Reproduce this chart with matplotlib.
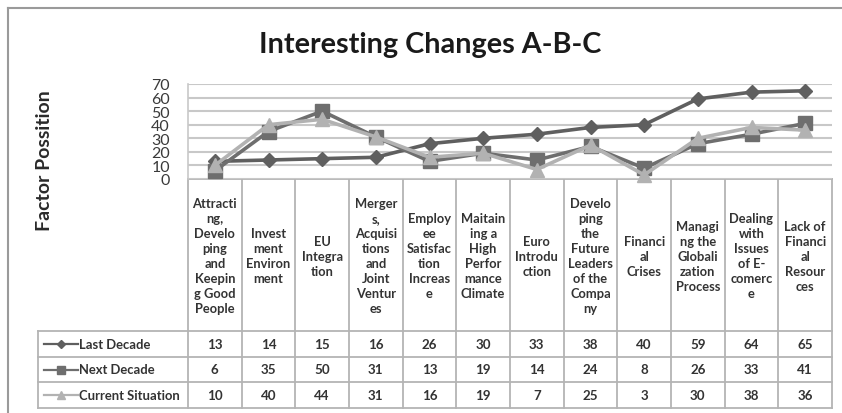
import matplotlib
matplotlib.use("Agg")
import matplotlib.pyplot as plt
from matplotlib.lines import Line2D

plt.rcParams['font.family'] = ['Lato', 'DejaVu Sans']

categories = [
    "Attracti\nng,\nDevelo\nping\nand\nKeepin\ng Good\nPeople",
    "Invest\nment\nEnviron\nment",
    "EU\nIntegra\ntion",
    "Merger\ns,\nAcquisi\ntions\nand\nJoint\nVentur\nes",
    "Employ\nee\nSatisfac\ntion\nIncreas\ne",
    "Maitain\ning a\nHigh\nPerfor\nmance\nClimate",
    "Euro\nIntrodu\nction",
    "Develo\nping\nthe\nFuture\nLeaders\nof the\nCompa\nny",
    "Financi\nal\nCrises",
    "Managi\nng the\nGlobali\nzation\nProcess",
    "Dealing\nwith\nIssues\nof E-\ncomerc\ne",
    "Lack of\nFinanci\nal\nResour\nces",
]
last_decade = [13, 14, 15, 16, 26, 30, 33, 38, 40, 59, 64, 65]
next_decade = [6, 35, 50, 31, 13, 19, 14, 24, 8, 26, 33, 41]
current_situation = [10, 40, 44, 31, 16, 19, 7, 25, 3, 30, 38, 36]
series_names = ["Last Decade", "Next Decade", "Current Situation"]
y_ticks = [0, 10, 20, 30, 40, 50, 60, 70]

W, H = 842, 414
fig = plt.figure(figsize=(W / 100, H / 100), dpi=100)
fig.patch.set_facecolor("white")

# pixel geometry
px_left, px_right = 188, 832
px_top, px_bottom = 85, 180
hdr_bottom = 332
row_lines = [332, 358, 383, 409]
leg_left = 38
n = len(categories)
colw = (px_right - px_left) / n

styles = [
    dict(color="#5f5f5f", marker="D", ms=7.5, lw=2.6),
    dict(color="#6e6e6e", marker="s", ms=9.5, lw=2.6),
    dict(color="#b2b2b2", marker="^", ms=9.5, lw=2.6),
]

# overlay axes in pixel coords
ov = fig.add_axes([0, 0, 1, 1])
ov.set_xlim(0, W)
ov.set_ylim(H, 0)
ov.axis("off")

# data axes
ax = fig.add_axes([px_left / W, 1 - px_bottom / H, (px_right - px_left) / W, (px_bottom - px_top) / H])
ax.set_xlim(-0.5, n - 0.5)
ax.set_ylim(0, 70)
ax.set_yticks(y_ticks)
ax.set_xticks([])
ax.yaxis.grid(True, color="#c8c8c8", lw=1.5)
ax.set_axisbelow(True)
for s in ["top", "right", "bottom"]:
    ax.spines[s].set_visible(False)
ax.spines["left"].set_color("#c8c8c8")
ax.spines["left"].set_linewidth(1.2)
ax.tick_params(axis="y", length=0, labelsize=11.5, labelcolor="#3a3a3a", pad=13)
ax.patch.set_alpha(0)

xs = list(range(n))
for vals, st, name in zip([last_decade, next_decade, current_situation], styles, series_names):
    ax.plot(xs, vals, color=st["color"], marker=st["marker"], markersize=st["ms"],
            lw=st["lw"], label=name, clip_on=False, zorder=3)

lc = "#b4b4b4"
# outer border
ov.add_line(Line2D([8, W], [9, 9], color="#9a9a9a", lw=1.5))
ov.add_line(Line2D([8, 8], [9, H], color="#9a9a9a", lw=1.5))

# title and y label
ov.text(430, 45, "Interesting Changes A-B-C", ha="center", va="center",
        fontsize=20.7, fontweight="bold", color="#1a1a1a")
ov.text(45, 161, "Factor Possition", ha="center", va="center", rotation=90,
        fontsize=14, fontweight="bold", color="#2a2a2a")

# table lines
ov.add_line(Line2D([px_left, px_right], [px_bottom, px_bottom], color=lc, lw=1.3))
for i in range(n + 1):
    x = px_left + i * colw
    ov.add_line(Line2D([x, x], [px_bottom, row_lines[-1]], color=lc, lw=1.3))
for y in row_lines:
    ov.add_line(Line2D([leg_left, px_right], [y, y], color=lc, lw=1.3))
ov.add_line(Line2D([leg_left, leg_left], [row_lines[0], row_lines[-1]], color=lc, lw=1.3))

# category labels
for i, c in enumerate(categories):
    ov.text(px_left + (i + 0.5) * colw, (px_bottom + hdr_bottom) / 2 + 1, c,
            ha="center", va="center", fontsize=9.3, fontweight="bold",
            color="#333333", linespacing=1.3)

# data rows
for r, (vals, st, name) in enumerate(zip([last_decade, next_decade, current_situation], styles, series_names)):
    yc = (row_lines[r] + row_lines[r + 1]) / 2
    ov.add_line(Line2D([44, 78], [yc, yc], color=st["color"], lw=1.6))
    ov.add_line(Line2D([61], [yc], color=st["color"], marker=st["marker"], ms=st["ms"] * 0.6, lw=0))
    ov.text(79, yc, name, ha="left", va="center", fontsize=9.4, fontweight="bold", color="#333333")
    for i, v in enumerate(vals):
        ov.text(px_left + (i + 0.5) * colw, yc, str(v), ha="center", va="center",
                fontsize=9.6, fontweight="bold", color="#333333")

fig.savefig("out.png", dpi=100)
